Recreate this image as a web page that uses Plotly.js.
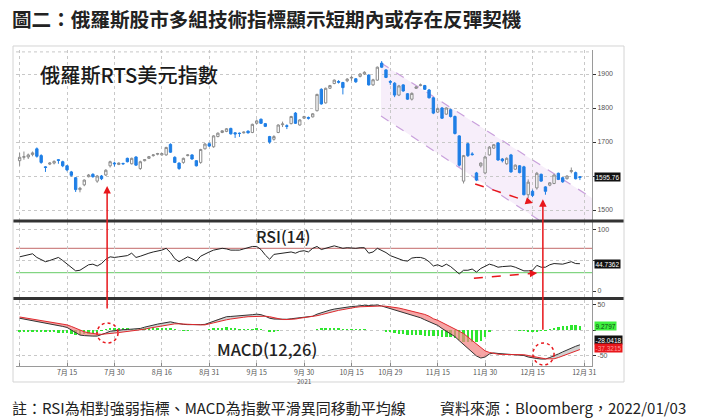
<!DOCTYPE html>
<html><head><meta charset="utf-8">
<script src="https://cdn.plot.ly/plotly-3.0.1.min.js"></script>
<style>html,body{margin:0;padding:0;background:#fff;}#chart{width:703px;height:419px;}</style>
</head><body><div id="chart"></div>
<script>
// ---- data (trading days 2021-06-30 .. 2021-12-30) ----
const open = [1645,1655,1656,1663,1680,1660,1627,1635,1638,1648, 1642,1630,1612,1595,1560,1574,1598,1605,1585,1600, 1603,1630,1638,1634,1637,1652,1636,1656,1622,1645, 1652,1660,1664,1662,1662,1693,1655,1638,1640,1660, 1662,1645,1640,1680,1695,1686,1716,1728,1731,1740, 1727,1726,1727,1732,1728,1755,1767,1754,1716,1708, 1728,1751,1748,1754,1785,1750,1770,1772,1774,1792, 1855,1815,1858,1872,1878,1875,1880,1888,1886,1893, 1900,1897,1868,1882,1932,1912,1878,1873,1838,1868, 1842,1826,1858,1866,1866,1853,1830,1788,1800,1782, 1795,1775,1718,1585,1695,1665,1609,1630,1609,1662, 1682,1697,1650,1636,1662,1620,1630,1627,1545,1555, 1565,1605,1568,1573,1578,1608,1595,1592,1613,1610, 1598];
const high = [1668,1672,1666,1672,1684,1664,1629,1641,1646,1650, 1645,1632,1615,1597,1568,1590,1606,1608,1603,1603, 1620,1645,1642,1640,1639,1654,1654,1658,1645,1650, 1659,1664,1668,1668,1686,1696,1658,1640,1654,1664, 1664,1647,1680,1697,1698,1720,1728,1735,1741,1742, 1729,1728,1731,1734,1754,1766,1769,1756,1718,1720, 1752,1760,1752,1777,1788,1767,1777,1775,1785,1842, 1858,1860,1868,1884,1882,1877,1888,1894,1888,1902, 1908,1899,1886,1922,1938,1914,1882,1876,1868,1870, 1844,1846,1864,1872,1868,1856,1832,1802,1803,1802, 1798,1778,1720,1662,1698,1670,1612,1640,1660,1688, 1694,1700,1653,1655,1665,1634,1632,1630,1590,1560, 1612,1607,1570,1582,1605,1610,1597,1602,1625,1613, 1600];
const low = [1630,1648,1650,1658,1654,1636,1612,1632,1634,1636, 1626,1614,1598,1553,1552,1570,1596,1595,1580,1588, 1600,1625,1628,1632,1633,1640,1634,1630,1618,1643, 1650,1657,1661,1660,1660,1668,1638,1618,1636,1658, 1648,1628,1636,1678,1686,1683,1714,1726,1729,1722, 1712,1715,1725,1725,1726,1752,1753,1744,1695,1704, 1726,1744,1738,1752,1753,1748,1768,1766,1772,1790, 1810,1813,1856,1870,1872,1840,1876,1880,1874,1890, 1897,1866,1865,1880,1918,1888,1868,1832,1835,1848, 1824,1822,1856,1864,1853,1828,1782,1786,1768,1780, 1772,1722,1628,1578,1656,1660,1585,1625,1605,1660, 1680,1645,1640,1633,1610,1618,1608,1543,1535,1538, 1560,1583,1545,1570,1576,1588,1580,1590,1608,1590, 1588];
const close = [1655,1657,1662,1668,1658,1640,1625,1638,1643,1646, 1630,1618,1602,1560,1564,1588,1603,1598,1600,1592, 1617,1642,1636,1638,1636,1642,1652,1632,1642,1648, 1657,1662,1666,1666,1684,1670,1640,1622,1652,1662, 1650,1630,1678,1694,1688,1718,1726,1733,1739,1724, 1724,1725,1729,1727,1752,1762,1755,1746,1700,1716, 1750,1753,1746,1775,1755,1765,1775,1770,1783,1840, 1812,1858,1866,1882,1876,1860,1885,1890,1877,1900, 1905,1868,1883,1920,1920,1890,1876,1838,1865,1850, 1826,1843,1862,1868,1855,1830,1785,1798,1770,1800, 1775,1725,1632,1660,1660,1663,1588,1638,1656,1685, 1692,1647,1645,1652,1612,1632,1610,1545,1582,1543, 1608,1585,1555,1580,1603,1590,1583,1600,1616,1592, 1595.76];
const rsi = [56,58,60,61,55,51,48,50,52,55, 50,44,39,33,34,39,43,44,41,45, 52,56,55,56,57,58,62,55,57,60, 62,64,65,67,70,63,53,48,52,56, 53,49,57,61,64,67,68,70,69,67, 67,67,69,71,73,73,68,59,52,60, 61,62,63,64,62,65,66,64,70,73, 68,70,72,74,72,70,71,70,70,71, 71,62,64,70,67,63,58,55,53,50, 49,54,55,55,53,48,41,43,40,44, 40,34,28,34,34,36,31,37,40,44, 42,39,40,40,41,39,36,33,33,34, 42,39,39,43,45,44,44,46,48,45, 44.7362];
const macd = [24,22.5,21,19,18,16.5,15,14,12,10, 8,6,1,-4,-9,-10,-11,-11,-11,-8.5, -5,-1.5,0,1,1.5,2,2.5,3.5,4,6.5, 9,11,12.5,14,16,17,15,13,12,11.5, 11,11,11.5,12,15,19,22,25,27,27.5, 28,28,29,30,31,32,31,28,24,22.5, 22,21.5,22,23,24,25,25.5,26,28,32, 35,38,40,42,43.5,44.5,46,47,47.5,48.5, 49.5,49,49.5,50,48,45.5,43,40,38,35, 32,30,28,25,21,17.5,13,10,4,-1, -6,-12,-20,-28,-36,-43,-50,-54,-52,-46, -44,-45,-45.5,-46,-47,-47,-47.5,-49,-52,-54, -55,-56,-56,-53,-50,-46,-42,-38,-34,-31, -28.0418];
const signal = [26.5,25,23.5,22,21,19.5,18,17,15.5,14, 12.5,11,8,4.5,0.5,-2.5,-4.5,-6,-7,-7.5, -7,-6,-5,-4,-3,-2.5,-1,0,1,2.5, 4.5,6,7.5,9.5,11.5,13,13,13,12.5,12, 11,11,11,11,12.5,15,17,19.5,21,22.5, 24,25,26,27,27.5,28,28,28,27,25.5, 23,21.5,21.5,21.5,22.5,24,25,26,27,29, 31,33.5,35.5,37.5,39.5,41,43,44,45.5,46.5, 47,47.5,48,48.5,48,47.5,46.5,45,44,42, 40,38,36,34,31.5,28,23,20,16,12, 7.5,3,-1.5,-6,-13,-20,-27,-34,-40,-43, -45,-46.5,-47,-47,-47,-47,-47,-47.5,-49,-51, -53,-54.5,-55.5,-55.5,-55.5,-53,-50,-47,-44,-41, -37.3215];
const hist = [-2.5,-2.5,-2.5,-3,-3,-3,-3,-3,-3.5,-4, -4.5,-5,-7,-8.5,-9.5,-7.5,-6.5,-5,-4,-1, 2,4.5,5,5,4.5,4.5,3.5,3.5,3,4, 4.5,5,5,4.5,4.5,4,2,0,-0.5,-0.5, 0,0,0.5,1,2.5,4,5,5.5,6,5, 4,3,3,3,3.5,4,3,0,-3,-3, -1,0,0.5,1.5,1.5,1,0.5,0,1,3, 4,4.5,4.5,4.5,4,3.5,3,3,2,2, 2.5,1.5,1.5,1.5,0,-2,-3.5,-5,-6,-7, -8,-8,-8,-9,-10.5,-10.5,-10,-10,-12,-13, -13.5,-15,-18.5,-22,-23,-23,-23,-20,-12,-3, 1,1.5,1.5,1,0,0,-0.5,-1.5,-3,-3, -2,-1.5,-0.5,2.5,5.5,7,8,9,10,10, 9.2797];
const tickIdx = [0,11,22,33,44,55,66,77,86,97,108,119,131];
const tickLabels = ['','7月 15','7月 30','8月 16','8月 31','9月 15','9月 30','10月 15','10月 29','11月 15','11月 30','12月 15','12月 31'];
const priceTicks = [1500,1600,1700,1800,1900];
const priceTickLabels = ['1500','','1700','1800','1900'];
const rsiTicks = [0,50,100];
const rsiTickLabels = ['0','','100'];
const rsiLevels = [70,30];
const macdTicks = [-50,0,50];
const macdTickLabels = ['-50','','50'];

// ---- build ----
const day = close.map((_, i) => i);
const last = close.length - 1;
const pinkTop = signal.map((s, i) => s > macd[i] ? s : macd[i]);
const grayTop = macd.map((m, i) => m > signal[i] ? m : signal[i]);
const FONT = 'Noto Sans CJK TC, Noto Sans, sans-serif';
const RED = '#e8161b';

const traces = [
  {type:'candlestick', x:day, open:open, high:high, low:low, close:close, xaxis:'x', yaxis:'y',
   increasing:{line:{color:'#8c8c8c', width:1}, fillcolor:'#ffffff'},
   decreasing:{line:{color:'#1f7fe6', width:1}, fillcolor:'#1f7fe6'},
   whiskerwidth:0, hoverinfo:'skip'},
  {type:'scatter', x:day, y:rsi, xaxis:'x', yaxis:'y2', mode:'lines', line:{color:'#222', width:1}, hoverinfo:'skip'},
  {type:'bar', x:day, y:hist, xaxis:'x', yaxis:'y3', marker:{color:'#2fe62f'}, width:0.55, hoverinfo:'skip'},
  {type:'scatter', x:day, y:macd, xaxis:'x', yaxis:'y3', mode:'lines', line:{width:0}, hoverinfo:'skip'},
  {type:'scatter', x:day, y:pinkTop, xaxis:'x', yaxis:'y3', mode:'lines', line:{width:0}, fill:'tonexty', fillcolor:'rgba(242,130,130,0.72)', hoverinfo:'skip'},
  {type:'scatter', x:day, y:signal, xaxis:'x', yaxis:'y3', mode:'lines', line:{width:0}, hoverinfo:'skip'},
  {type:'scatter', x:day, y:grayTop, xaxis:'x', yaxis:'y3', mode:'lines', line:{width:0}, fill:'tonexty', fillcolor:'rgba(190,190,190,0.7)', hoverinfo:'skip'},
  {type:'scatter', x:day, y:macd, xaxis:'x', yaxis:'y3', mode:'lines', line:{color:'#333', width:1}, hoverinfo:'skip'},
  {type:'scatter', x:day, y:signal, xaxis:'x', yaxis:'y3', mode:'lines', line:{color:'#e0282c', width:1}, hoverinfo:'skip'}
];

const yax = (extra) => Object.assign({
  side:'right', anchor:'x', showgrid:true, gridcolor:'#c8c8c8', griddash:'dot', gridwidth:1,
  zeroline:false, showline:true, linecolor:'#9a9a9a', linewidth:1,
  ticks:'outside', ticklen:3, tickcolor:'#333', tickfont:{size:7, color:'#555', family:'Liberation Sans, sans-serif'},
  fixedrange:true
}, extra);

const valBox = (text, yref, y, bg, fg) => ({xref:'paper', x:1.0035, xanchor:'left', yref:yref, y:y, yanchor:'middle',
  text:text, showarrow:false, bgcolor:bg, font:{size:6.5, color:fg, family:'Liberation Sans, sans-serif'}, borderpad:0.5});

const arrowBase = {text:'', font:{size:1}, showarrow:true, arrowhead:2, arrowsize:1, arrowwidth:1.5, arrowcolor:RED, standoff:0, startstandoff:0};

const layout = {
  width:703, height:419, margin:{l:16, r:111, t:50, b:53},
  paper_bgcolor:'#ffffff', plot_bgcolor:'#ffffff', showlegend:false, bargap:0, boxgap:0.22,
  font:{family:FONT, color:'#222'},
  xaxis:{range:[-0.84,132.8], anchor:'y3', tickvals:tickIdx, ticktext:tickLabels, showgrid:true,
    gridcolor:'#c8c8c8', griddash:'dot', gridwidth:1, zeroline:false, showline:true, linecolor:'#9a9a9a',
    ticks:'inside', ticklen:3, tickcolor:'#888', tickfont:{size:7, color:'#555', family:FONT},
    rangeslider:{visible:false}, fixedrange:true},
  yaxis: yax({domain:[0.462,1], range:[1470.6,1970.6], tickvals:priceTicks, ticktext:priceTickLabels}),
  yaxis2: yax({domain:[0.2184,0.4557], range:[-9.8,113.1], tickvals:rsiTicks, ticktext:rsiTickLabels}),
  yaxis3: yax({domain:[0,0.2089], range:[-69.6,59.8], tickvals:macdTicks, ticktext:macdTickLabels}),
  shapes:[
    // price channel
    {type:'path', xref:'x', yref:'y', path:'M 83.85,1932.4 L 132.8,1535.3 L 132.8,1367.6 L 83.85,1776.5 Z',
     fillcolor:'#f7eefa', line:{width:0}, layer:'below'},
    {type:'line', xref:'x', yref:'y', x0:83.85, y0:1932.4, x1:132.8, y1:1535.3, line:{color:'#c9a0dc', width:1.2, dash:'dash'}, layer:'below'},
    {type:'line', xref:'x', yref:'y', x0:83.85, y0:1776.5, x1:132.8, y1:1367.6, line:{color:'#c9a0dc', width:1.2, dash:'dash'}, layer:'below'},
    // top dotted border of price panel
    {type:'line', xref:'paper', yref:'paper', x0:0, x1:1, y0:0.994, y1:0.994, line:{color:'#c8c8c8', width:1, dash:'dot'}, layer:'below'},
    // RSI levels
    {type:'line', xref:'paper', x0:0, x1:1, yref:'y2', y0:rsiLevels[0], y1:rsiLevels[0], line:{color:'#c46a6a', width:1}, layer:'below'},
    {type:'line', xref:'paper', x0:0, x1:1, yref:'y2', y0:rsiLevels[1], y1:rsiLevels[1], line:{color:'#66cc66', width:1}, layer:'below'},
    // separators and frame
    {type:'line', xref:'paper', yref:'paper', x0:-0.0052, x1:1.0556, y0:0.4589, y1:0.4589, line:{color:'#333', width:3}},
    {type:'line', xref:'paper', yref:'paper', x0:-0.0052, x1:1.0556, y0:0.2136, y1:0.2136, line:{color:'#333', width:3}},
    {type:'rect', xref:'paper', yref:'paper', x0:-0.0052, x1:1.0556, y0:-0.0506, y1:1.0127, line:{color:'#d4d4d4', width:1}},
    // dashed divergence arrows (shafts)
    {type:'line', xref:'x', yref:'y', x0:105.7, y0:1576.5, x1:118.6, y1:1522.6, line:{color:RED, width:1.5, dash:'dash'}},
    {type:'line', xref:'x', yref:'y2', x0:105.4, y0:20.8, x1:119.5, y1:29.1, line:{color:RED, width:1.5, dash:'dash'}},
    // dotted circles
    {type:'circle', xref:'x', yref:'y3', x0:17.96, x1:22.83, y0:-24.5, y1:14.7, line:{color:RED, width:1.5, dash:'dot'}},
    {type:'circle', xref:'x', yref:'y3', x0:119.1, x1:124.0, y0:-67.6, y1:-24.5, line:{color:RED, width:1.5, dash:'dot'}}
  ],
  annotations:[
    {xref:'paper', yref:'paper', x:-0.0104, y:1.101, xanchor:'left', yanchor:'middle', showarrow:false,
     text:'<b>圖二：俄羅斯股市多組技術指標顯示短期內或存在反彈契機</b>', font:{size:19.6, color:'#222', family:FONT}},
    {xref:'paper', yref:'paper', x:0.038, y:0.921, xanchor:'left', yanchor:'middle', showarrow:false,
     text:'俄羅斯RTS美元指數', font:{size:20.2, color:'#1a1a1a', family:FONT, weight:500}},
    {xref:'paper', yref:'paper', x:0.465, y:0.411, xanchor:'center', yanchor:'middle', showarrow:false,
     text:'RSI(14)', font:{size:16, color:'#222', family:FONT, weight:500}},
    {xref:'paper', yref:'paper', x:0.4366, y:0.0538, xanchor:'center', yanchor:'middle', showarrow:false,
     text:'MACD(12,26)', font:{size:16.5, color:'#222', family:FONT, weight:500}},
    {xref:'x', yref:'paper', x:66, y:-0.049, xanchor:'center', yanchor:'middle', showarrow:false,
     text:'2021', font:{size:6.5, color:'#555', family:FONT}},
    {xref:'paper', yref:'paper', x:-0.0104, y:-0.1329, xanchor:'left', yanchor:'middle', showarrow:false,
     text:'註：RSI為相對強弱指標、MACD為指數平滑異同移動平均線', font:{size:15, color:'#222', family:FONT}},
    {xref:'paper', yref:'paper', x:1.1667, y:-0.1329, xanchor:'right', yanchor:'middle', showarrow:false,
     text:'資料來源：Bloomberg，2022/01/03', font:{size:15, color:'#222', family:FONT}},
    valBox(close[last].toFixed(2), 'y', close[last], '#111', '#fff'),
    valBox(rsi[last].toFixed(4), 'y2', rsi[last], '#111', '#fff'),
    valBox(hist[last].toFixed(4), 'y3', hist[last], '#3ef03e', '#114411'),
    valBox(macd[last].toFixed(4), 'y3', macd[last] + 8.5, '#111', '#fff'),
    valBox(signal[last].toFixed(4), 'y3', signal[last] + 2.5, '#e8161b', '#ff9a9a'),
    // red arrows
    Object.assign({xref:'x', yref:'y', x:20.3, y:1570.6, ax:0, ay:124}, arrowBase),
    Object.assign({xref:'x', yref:'y', x:121.4, y:1532, ax:0, ay:132}, arrowBase),
    Object.assign({xref:'x', yref:'y', x:119.1, y:1520.6, axref:'x', ayref:'y', ax:117.4, ay:1527.6}, arrowBase),
    Object.assign({xref:'x', yref:'y2', x:120.1, y:29.5, axref:'x', ayref:'y2', ax:118.2, ay:28.4}, arrowBase)
  ]
};

Plotly.newPlot('chart', traces, layout, {staticPlot:true, displayModeBar:false});
</script>
</body></html>
